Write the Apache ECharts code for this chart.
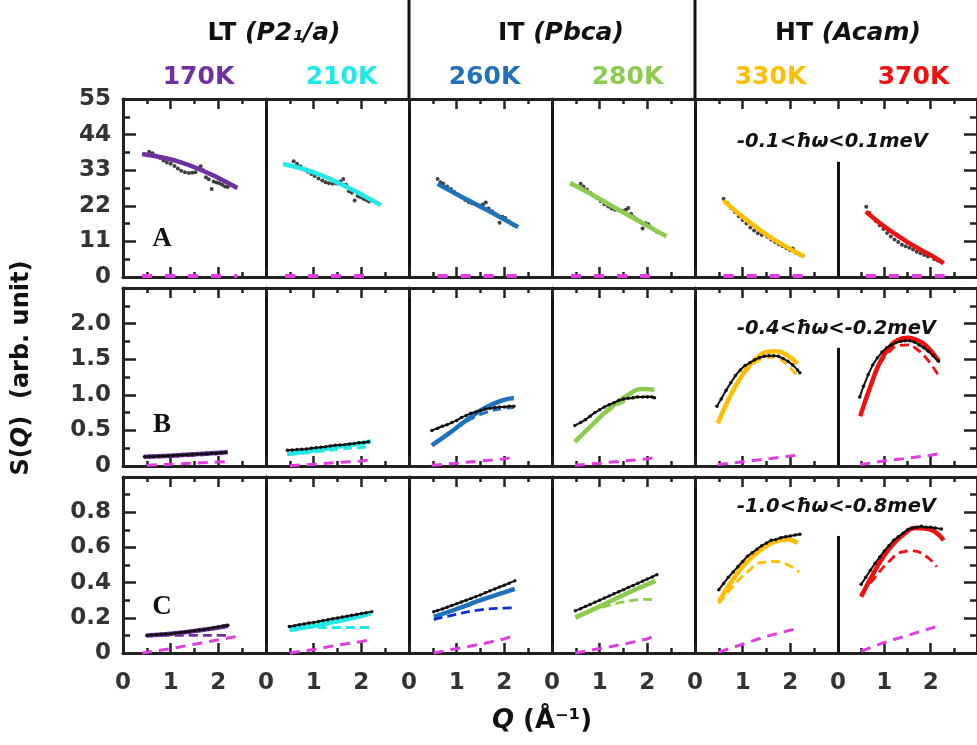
<!DOCTYPE html>
<html><head><meta charset="utf-8">
<script src="https://cdn.jsdelivr.net/npm/echarts@6/dist/echarts.min.js"></script>
<style>html,body{margin:0;padding:0;background:#fff}#c{width:977px;height:745px}</style>
</head><body><div id="c"></div>
<script>
// ---------- data (Q in 1/Angstrom, S(Q) arb. unit) ----------
const temps = ['170K','210K','260K','280K','330K','370K'];
const tempColors = ['#7030A0','#22E8E8','#1F72BA','#8CCB50','#FFBE00','#F01010'];
const compColors = ['#7030A0','#22E8E8','#1F72BA','#8CCB50','#FFBE00','#F01010'];
const compColorsC = ['#7030A0','#22E8E8','#1030C8','#8CCB50','#FFBE00','#F01010'];
const magenta = '#E03CE0';

// Row A: -0.1<hw<0.1 meV
const A170_dots = [[0.55,38.7],[0.62,38.2],[0.70,37.5],[0.78,36.8],[0.85,36.0],[0.92,35.4],[1.00,35.0],[1.08,34.3],[1.15,33.5],[1.22,32.8],[1.30,32.4],[1.38,32.1],[1.45,32.2],[1.52,32.4],[1.58,33.5],[1.63,34.2],[1.68,33.0],[1.74,30.8],[1.80,30.2],[1.86,27.2],[1.90,29.5],[1.96,29.2],[2.02,29.0],[2.08,28.5],[2.14,28.0],[2.20,27.8]];
const A170_fit = [[0.4,38.0],[0.8,37.0],[1.2,35.5],[1.6,33.3],[2.0,30.6],[2.4,27.5]];
const A170_mag = [[0.4,0.3],[2.4,0.3]];
const A210_dots = [[0.58,35.8],[0.65,35.0],[0.72,34.2],[0.80,33.2],[0.88,32.5],[0.95,31.8],[1.02,31.2],[1.10,30.4],[1.18,29.8],[1.25,29.3],[1.32,29.0],[1.40,28.8],[1.48,28.9],[1.56,29.5],[1.62,30.3],[1.68,28.5],[1.74,26.5],[1.80,26.0],[1.86,23.6],[1.92,25.0],[1.98,24.7],[2.04,24.2],[2.10,23.8],[2.16,23.3]];
const A210_fit = [[0.36,34.9],[0.8,33.3],[1.2,31.2],[1.6,28.5],[2.0,25.5],[2.41,22.2]];
const A210_mag = [[0.4,0.3],[2.2,0.3]];
const A260_dots = [[0.60,30.3],[0.66,29.3],[0.72,28.8],[0.80,28.0],[0.88,27.2],[0.95,26.3],[1.02,25.5],[1.10,24.6],[1.18,23.8],[1.25,23.2],[1.32,22.8],[1.40,22.4],[1.48,22.1],[1.55,22.4],[1.61,23.0],[1.67,21.2],[1.74,20.3],[1.80,19.6],[1.86,19.0],[1.90,16.8],[1.96,18.6],[2.02,18.2],[2.08,17.3],[2.14,16.5],[2.20,16.0]];
const A260_fit = [[0.6,28.8],[1.0,25.6],[1.4,22.5],[1.8,19.4],[2.29,15.4]];
const A260_mag = [[0.6,0.3],[2.3,0.3]];
const A280_dots = [[0.60,28.8],[0.66,28.0],[0.73,27.0],[0.80,26.0],[0.88,25.0],[0.95,24.3],[1.02,23.5],[1.10,22.5],[1.18,21.8],[1.25,21.2],[1.32,20.8],[1.40,20.6],[1.48,20.5],[1.55,20.8],[1.60,21.3],[1.66,19.5],[1.72,18.5],[1.78,17.8],[1.84,17.3],[1.90,15.0],[1.96,16.6],[2.02,16.3],[2.08,15.3],[2.14,14.6],[2.20,14.0]];
const A280_fit = [[0.38,29.0],[0.8,25.8],[1.2,22.4],[1.6,19.1],[2.0,15.8],[2.4,12.6]];
const A280_mag = [[0.4,0.3],[2.3,0.3]];
const A330_dots = [[0.60,24.2],[0.68,22.8],[0.76,21.3],[0.84,20.0],[0.92,18.8],[1.00,17.6],[1.08,16.5],[1.16,15.3],[1.24,14.4],[1.32,13.5],[1.40,13.0],[1.46,13.6],[1.52,12.4],[1.60,11.5],[1.68,10.8],[1.76,10.1],[1.84,9.5],[1.92,8.9],[2.00,8.3],[2.05,8.8],[2.12,7.4],[2.20,6.9],[2.26,6.6]];
const A330_fit = [[0.6,23.6],[0.9,19.8],[1.2,16.3],[1.5,13.1],[1.8,10.3],[2.1,7.8],[2.29,6.3]];
const A330_mag = [[0.6,0.3],[2.3,0.3]];
const A370_dots = [[0.61,21.7],[0.68,19.8],[0.75,18.5],[0.82,17.2],[0.90,16.0],[0.98,14.8],[1.06,13.6],[1.14,12.5],[1.22,11.6],[1.30,10.8],[1.38,10.0],[1.46,9.5],[1.54,9.0],[1.62,8.5],[1.70,7.8],[1.78,7.3],[1.86,6.8],[1.94,6.3],[2.02,6.5],[2.08,5.5],[2.16,5.0],[2.24,4.6]];
const A370_fit = [[0.6,20.2],[0.9,16.7],[1.2,13.6],[1.5,10.8],[1.8,8.3],[2.1,5.9],[2.28,4.2]];
const A370_mag = [[0.6,0.3],[2.3,0.3]];

// Row B: -0.4<hw<-0.2 meV
const B170_dots = [[0.45,0.13],[0.55,0.132],[0.65,0.135],[0.75,0.137],[0.85,0.14],[0.95,0.143],[1.05,0.146],[1.15,0.15],[1.25,0.153],[1.35,0.157],[1.45,0.16],[1.55,0.164],[1.65,0.168],[1.75,0.172],[1.85,0.176],[1.95,0.18],[2.05,0.185],[2.15,0.19]];
const B170_fit = [[0.45,0.13],[1.0,0.145],[1.5,0.165],[2.0,0.185],[2.2,0.195]];
const B170_comp = [[0.45,0.12],[1.0,0.135],[1.5,0.15],[2.0,0.17],[2.2,0.18]];
const B170_mag = [[0.5,0.01],[1.0,0.025],[1.5,0.04],[2.0,0.055],[2.2,0.06]];
const B210_dots = [[0.45,0.22],[0.55,0.225],[0.65,0.23],[0.75,0.235],[0.85,0.24],[0.95,0.25],[1.05,0.255],[1.15,0.265],[1.25,0.27],[1.35,0.28],[1.45,0.29],[1.55,0.295],[1.65,0.30],[1.75,0.31],[1.85,0.315],[1.95,0.325],[2.05,0.33],[2.15,0.34]];
const B210_fit = [[0.45,0.17],[0.8,0.20],[1.2,0.24],[1.6,0.28],[2.0,0.32],[2.2,0.35]];
const B210_comp = [[0.45,0.16],[0.8,0.18],[1.2,0.21],[1.6,0.24],[2.0,0.26],[2.2,0.27]];
const B210_mag = [[0.5,0.005],[1.0,0.025],[1.5,0.05],[2.0,0.07],[2.2,0.085]];
const B260_dots = [[0.48,0.50],[0.6,0.53],[0.7,0.56],[0.8,0.58],[0.9,0.61],[1.0,0.64],[1.1,0.68],[1.2,0.71],[1.3,0.74],[1.4,0.76],[1.5,0.78],[1.6,0.80],[1.7,0.81],[1.8,0.82],[1.9,0.83],[2.0,0.83],[2.1,0.84],[2.2,0.84]];
const B260_fit = [[0.48,0.29],[0.8,0.44],[1.2,0.64],[1.6,0.82],[2.0,0.93],[2.2,0.95]];
const B260_comp = [[0.48,0.30],[0.8,0.44],[1.2,0.62],[1.6,0.75],[2.0,0.81],[2.2,0.82]];
const B260_mag = [[0.48,0.01],[1.0,0.04],[1.5,0.07],[2.0,0.10],[2.2,0.12]];
const B280_dots = [[0.48,0.57],[0.6,0.61],[0.7,0.65],[0.8,0.70],[0.9,0.75],[1.0,0.79],[1.1,0.83],[1.2,0.86],[1.3,0.89],[1.4,0.92],[1.5,0.94],[1.6,0.95],[1.7,0.96],[1.8,0.97],[1.9,0.97],[2.0,0.97],[2.1,0.97],[2.15,0.96]];
const B280_fit = [[0.48,0.34],[0.8,0.55],[1.2,0.80],[1.6,1.00],[1.9,1.08],[2.15,1.07]];
const B280_comp = [[0.48,0.34],[0.8,0.55],[1.2,0.78],[1.6,0.93],[1.9,0.98],[2.15,0.97]];
const B280_mag = [[0.48,0.01],[1.0,0.04],[1.5,0.07],[2.0,0.10],[2.15,0.12]];
const B330_dots = [[0.46,0.84],[0.55,0.94],[0.65,1.06],[0.75,1.17],[0.85,1.27],[0.95,1.35],[1.05,1.41],[1.15,1.45],[1.25,1.49],[1.35,1.52],[1.45,1.54],[1.55,1.55],[1.65,1.55],[1.75,1.54],[1.85,1.51],[1.95,1.47],[2.05,1.42],[2.15,1.35],[2.2,1.31]];
const B330_fit = [[0.48,0.60],[0.7,0.93],[0.9,1.18],[1.1,1.38],[1.3,1.52],[1.5,1.60],[1.7,1.61],[1.9,1.57],[2.15,1.44]];
const B330_comp = [[0.48,0.60],[0.7,0.92],[0.9,1.16],[1.1,1.35],[1.3,1.47],[1.5,1.53],[1.7,1.52],[1.9,1.44],[2.15,1.26]];
const B330_mag = [[0.48,0.02],[1.0,0.06],[1.5,0.10],[2.0,0.14],[2.15,0.15]];
const B370_dots = [[0.47,0.97],[0.55,1.12],[0.65,1.28],[0.75,1.42],[0.85,1.52],[0.95,1.60],[1.05,1.66],[1.15,1.70],[1.25,1.73],[1.35,1.75],[1.45,1.76],[1.55,1.76],[1.65,1.74],[1.75,1.70],[1.85,1.66],[1.95,1.61],[2.05,1.55],[2.17,1.47]];
const B370_fit = [[0.48,0.70],[0.7,1.12],[0.9,1.45],[1.1,1.66],[1.3,1.77],[1.5,1.80],[1.7,1.77],[1.9,1.69],[2.17,1.48]];
const B370_comp = [[0.48,0.70],[0.7,1.10],[0.9,1.42],[1.1,1.60],[1.3,1.69],[1.5,1.70],[1.7,1.64],[1.9,1.52],[2.17,1.27]];
const B370_mag = [[0.48,0.02],[1.0,0.07],[1.5,0.11],[2.0,0.15],[2.17,0.17]];

// Row C: -1.0<hw<-0.8 meV
const C170_dots = [[0.5,0.10],[0.6,0.102],[0.7,0.104],[0.8,0.106],[0.9,0.108],[1.0,0.11],[1.1,0.113],[1.2,0.116],[1.3,0.119],[1.4,0.122],[1.5,0.126],[1.6,0.13],[1.7,0.134],[1.8,0.138],[1.9,0.143],[2.0,0.148],[2.1,0.153],[2.2,0.158]];
const C170_fit = [[0.5,0.10],[1.0,0.11],[1.5,0.125],[2.0,0.145],[2.2,0.155]];
const C170_comp = [[0.5,0.10],[1.0,0.10],[1.5,0.10],[2.0,0.10],[2.2,0.10]];
const C170_mag = [[0.4,0.0],[1.0,0.025],[1.5,0.05],[2.0,0.075],[2.4,0.095]];
const C210_dots = [[0.49,0.15],[0.6,0.155],[0.7,0.16],[0.8,0.165],[0.9,0.17],[1.0,0.174],[1.1,0.179],[1.2,0.184],[1.3,0.189],[1.4,0.194],[1.5,0.199],[1.6,0.204],[1.7,0.209],[1.8,0.214],[1.9,0.219],[2.0,0.224],[2.1,0.229],[2.22,0.235]];
const C210_fit = [[0.5,0.13],[1.0,0.155],[1.5,0.18],[2.0,0.21],[2.2,0.225]];
const C210_comp = [[0.5,0.14],[1.0,0.145],[1.5,0.145],[2.0,0.145],[2.2,0.145]];
const C210_mag = [[0.5,0.0],[1.0,0.02],[1.5,0.045],[2.0,0.065],[2.2,0.075]];
const C260_dots = [[0.52,0.235],[0.6,0.242],[0.7,0.25],[0.8,0.26],[0.9,0.27],[1.0,0.28],[1.1,0.29],[1.2,0.30],[1.3,0.31],[1.4,0.32],[1.5,0.33],[1.6,0.342],[1.7,0.353],[1.8,0.364],[1.9,0.375],[2.0,0.385],[2.1,0.397],[2.22,0.41]];
const C260_fit = [[0.52,0.205],[1.0,0.25],[1.5,0.30],[2.0,0.345],[2.22,0.365]];
const C260_comp = [[0.52,0.19],[1.0,0.22],[1.5,0.245],[2.0,0.255],[2.22,0.256]];
const C260_mag = [[0.52,0.0],[1.0,0.025],[1.5,0.05],[2.0,0.08],[2.22,0.10]];
const C280_dots = [[0.49,0.24],[0.6,0.252],[0.7,0.264],[0.8,0.276],[0.9,0.288],[1.0,0.30],[1.1,0.312],[1.2,0.324],[1.3,0.336],[1.4,0.348],[1.5,0.36],[1.6,0.372],[1.7,0.384],[1.8,0.396],[1.9,0.408],[2.0,0.42],[2.1,0.432],[2.2,0.445]];
const C280_fit = [[0.49,0.20],[1.0,0.265],[1.5,0.33],[2.0,0.39],[2.17,0.41]];
const C280_comp = [[0.49,0.21],[1.0,0.255],[1.5,0.29],[2.0,0.305],[2.17,0.30]];
const C280_mag = [[0.49,0.0],[1.0,0.025],[1.5,0.05],[2.0,0.08],[2.17,0.10]];
const C330_dots = [[0.5,0.36],[0.6,0.395],[0.7,0.43],[0.8,0.46],[0.9,0.49],[1.0,0.52],[1.1,0.55],[1.2,0.57],[1.3,0.59],[1.4,0.61],[1.5,0.625],[1.6,0.64],[1.7,0.645],[1.8,0.655],[1.9,0.66],[2.0,0.665],[2.1,0.67],[2.2,0.675]];
const C330_fit = [[0.5,0.29],[0.8,0.42],[1.1,0.52],[1.4,0.59],[1.7,0.635],[1.95,0.645],[2.15,0.625]];
const C330_comp = [[0.5,0.28],[0.8,0.38],[1.1,0.46],[1.4,0.515],[1.7,0.52],[1.95,0.50],[2.19,0.46]];
const C330_mag = [[0.5,0.005],[1.0,0.05],[1.5,0.095],[2.0,0.13],[2.2,0.142]];
const C370_dots = [[0.5,0.39],[0.6,0.43],[0.7,0.47],[0.8,0.51],[0.9,0.545],[1.0,0.58],[1.1,0.61],[1.2,0.64],[1.3,0.66],[1.4,0.68],[1.5,0.70],[1.6,0.71],[1.7,0.715],[1.8,0.72],[1.9,0.715],[2.0,0.715],[2.1,0.71],[2.23,0.705]];
const C370_fit = [[0.5,0.32],[0.8,0.47],[1.1,0.59],[1.4,0.67],[1.7,0.71],[1.95,0.705],[2.28,0.64]];
const C370_comp = [[0.5,0.335],[0.8,0.43],[1.1,0.52],[1.4,0.575],[1.6,0.58],[1.9,0.55],[2.13,0.49]];
const C370_mag = [[0.5,0.01],[1.0,0.06],[1.5,0.10],[2.0,0.14],[2.2,0.155]];

// partial divider between 330K and 370K (top value of the short line, per row)
const dividerTop = [35.6, 1.66, 0.665];

// ---------- layout ----------
const SANS = 'DejaVu Sans';
const SERIF = 'Liberation Serif';
const AX = '#222';
const panelLeft = 123, panelW = 143;
const rows = [
  {top:99, height:178, max:55, interval:11, showMax:true, fmt:v=>String(v),
   panels:[[A170_dots,A170_fit,null,A170_mag],[A210_dots,A210_fit,null,A210_mag],[A260_dots,A260_fit,null,A260_mag],[A280_dots,A280_fit,null,A280_mag],[A330_dots,A330_fit,null,A330_mag],[A370_dots,A370_fit,null,A370_mag]]},
  {top:288, height:178, max:2.5, interval:0.5, showMax:false, fmt:v=>v===0?'0':v.toFixed(1),
   panels:[[B170_dots,B170_fit,B170_comp,B170_mag],[B210_dots,B210_fit,B210_comp,B210_mag],[B260_dots,B260_fit,B260_comp,B260_mag],[B280_dots,B280_fit,B280_comp,B280_mag],[B330_dots,B330_fit,B330_comp,B330_mag],[B370_dots,B370_fit,B370_comp,B370_mag]]},
  {top:477, height:176, max:1.0, interval:0.2, showMax:false, fmt:v=>v===0?'0':v.toFixed(1),
   panels:[[C170_dots,C170_fit,C170_comp,C170_mag],[C210_dots,C210_fit,C210_comp,C210_mag],[C260_dots,C260_fit,C260_comp,C260_mag],[C280_dots,C280_fit,C280_comp,C280_mag],[C330_dots,C330_fit,C330_comp,C330_mag],[C370_dots,C370_fit,C370_comp,C370_mag]]}
];

const grid = [], xAxis = [], yAxis = [], series = [];
const tick = (len)=>({show:true, inside:true, length:len, lineStyle:{color:AX, width:2.5}});
rows.forEach((row, r) => {
  row.panels.forEach((p, c) => {
    const g = grid.length;
    grid.push({left: panelLeft + panelW*c, top: row.top, width: panelW, height: row.height, containLabel:false});
    const xb = xAxis.length;
    xAxis.push({type:'value', gridIndex:g, position:'bottom', min:0, max:3, interval:1,
      axisLine:{show:true, onZero:false, lineStyle:{color:AX, width:3}},
      axisTick:tick(10), minorTick:{show:true, splitNumber:2, length:5, lineStyle:{color:AX, width:2.5}},
      splitLine:{show:false}, minorSplitLine:{show:false},
      axisLabel:{show: r===2, showMaxLabel:false, showMinLabel:true, fontFamily:SANS, fontWeight:'bold', fontSize:23, color:'#333', margin:19}});
    xAxis.push({type:'value', gridIndex:g, position:'top', min:0, max:3, interval:1,
      axisLine:{show:true, onZero:false, lineStyle:{color:AX, width:3}},
      axisTick:tick(10), minorTick:{show:true, splitNumber:2, length:5, lineStyle:{color:AX, width:2.5}},
      splitLine:{show:false}, axisLabel:{show:false}});
    const yl = yAxis.length;
    yAxis.push({type:'value', gridIndex:g, position:'left', min:0, max:row.max, interval:row.interval,
      axisLine:{show: c!==5, onZero:false, lineStyle:{color: c===0?AX:'#111', width:3}},
      axisTick:{...tick(13), show:c===0}, minorTick:{show:c===0, splitNumber:2, length:7, lineStyle:{color:AX, width:2.5}},
      splitLine:{show:false}, minorSplitLine:{show:false},
      axisLabel:{show:c===0, showMaxLabel:row.showMax, formatter:row.fmt, fontFamily:SANS, fontWeight:'bold', fontSize:23, color:'#333', margin:12}});
    if (c===5) {
      yAxis.push({type:'value', gridIndex:g, position:'right', min:0, max:row.max, interval:row.interval,
        axisLine:{show:true, onZero:false, lineStyle:{color:AX, width:3}},
        axisTick:tick(13), minorTick:{show:true, splitNumber:2, length:7, lineStyle:{color:AX, width:2.5}},
        splitLine:{show:false}, axisLabel:{show:false}});
    }
    const [dots, fit, comp, mag] = p;
    // magenta component
    series.push({type:'line', xAxisIndex:xb, yAxisIndex:yl, data:mag, showSymbol:false, symbol:'none', z:7, clip:false,
      lineStyle:{color:magenta, width: r===0 ? 4 : 3, type: r===0 ? [10,13] : [10,7]}});
    // data points
    if (r===0) {
      series.push({type:'scatter', xAxisIndex:xb, yAxisIndex:yl, data:dots, symbolSize:4, z:2,
        itemStyle:{color:'#111'}});
    } else {
      series.push({type:'line', xAxisIndex:xb, yAxisIndex:yl, data:dots, symbol:'circle', symbolSize:3.5, showSymbol:true, z:6,
        itemStyle:{color:'#111'}, lineStyle:{color:'#111', width:2}});
    }
    // dashed component
    if (comp) {
      series.push({type:'line', xAxisIndex:xb, yAxisIndex:yl, data:comp, smooth:true, symbol:'none', z:5,
        lineStyle:{color: r===2 ? compColorsC[c] : compColors[c], width:2.8, type:[9,5]}});
    }
    // fit
    const fitS = {type:'line', xAxisIndex:xb, yAxisIndex:yl, data:fit, smooth:true, symbol:'none', z:4,
      lineStyle:{color:tempColors[c], width:4.5}};
    if (c===5) {
      fitS.markLine = {silent:true, symbol:['none','none'], label:{show:false},
        lineStyle:{color:'#111', width:3, type:'solid'},
        data:[[{coord:[0,0]},{coord:[0,dividerTop[r]]}]]};
    }
    series.push(fitS);
  });
});

const txt = (x,y,text,extra) => ({type:'text', x, y, silent:true,
  style:Object.assign({text, fill:'#111', fontFamily:SANS, fontWeight:'bold', fontSize:24, align:'center', verticalAlign:'middle'}, extra||{})});
const richHead = {
  n:{fill:'#111', fontFamily:SANS, fontWeight:'bold', fontSize:25},
  i:{fill:'#111', fontFamily:SANS, fontWeight:'bold', fontStyle:'italic', fontSize:25}
};
const graphic = [
  {type:'line', silent:true, shape:{x1:409, y1:0, x2:409, y2:99}, style:{stroke:'#111', lineWidth:3}},
  {type:'line', silent:true, shape:{x1:695, y1:0, x2:695, y2:99}, style:{stroke:'#111', lineWidth:3}},
  txt(274, 33, '{n|LT }{i|(P2₁/a)}', {rich:richHead}),
  txt(561, 33, '{n|IT }{i|(Pbca)}', {rich:richHead}),
  txt(848, 33, '{n|HT }{i|(Acam)}', {rich:richHead}),
];
temps.forEach((t,i)=>graphic.push(txt(panelLeft + panelW*i + panelW/2 + 4, 77, t, {fill:tempColors[i], fontSize:25})));
['A','B','C'].forEach((l,i)=>graphic.push(txt(162, [239,425,607][i], l, {fontFamily:SERIF, fontSize:27})));
['-0.1<ħω<0.1meV','-0.4<ħω<-0.2meV','-1.0<ħω<-0.8meV'].forEach((s,i)=>graphic.push(
  txt(737, [142,329,507][i], s, {fontStyle:'italic', fontSize:19.5, align:'left'})));
graphic.push({type:'text', x:22, y:368, rotation:Math.PI/2, silent:true,
  style:{text:'{n|S(}{i|Q}{n|)  (arb. unit)}', align:'center', verticalAlign:'middle',
    rich:{n:{fill:'#111', fontFamily:SANS, fontWeight:'bold', fontSize:24}, i:{fill:'#111', fontFamily:SANS, fontWeight:'bold', fontStyle:'italic', fontSize:24}}}});
graphic.push(txt(542, 721, '{i|Q}{n| (Å⁻¹)}', {rich:{
  n:{fill:'#111', fontFamily:SANS, fontWeight:'bold', fontSize:26},
  i:{fill:'#111', fontFamily:SANS, fontWeight:'bold', fontStyle:'italic', fontSize:26}}}));

const chart = echarts.init(document.getElementById('c'), null, {renderer:'canvas'});
chart.setOption({animation:false, backgroundColor:'#fff', grid, xAxis, yAxis, series, graphic});
</script></body></html>
